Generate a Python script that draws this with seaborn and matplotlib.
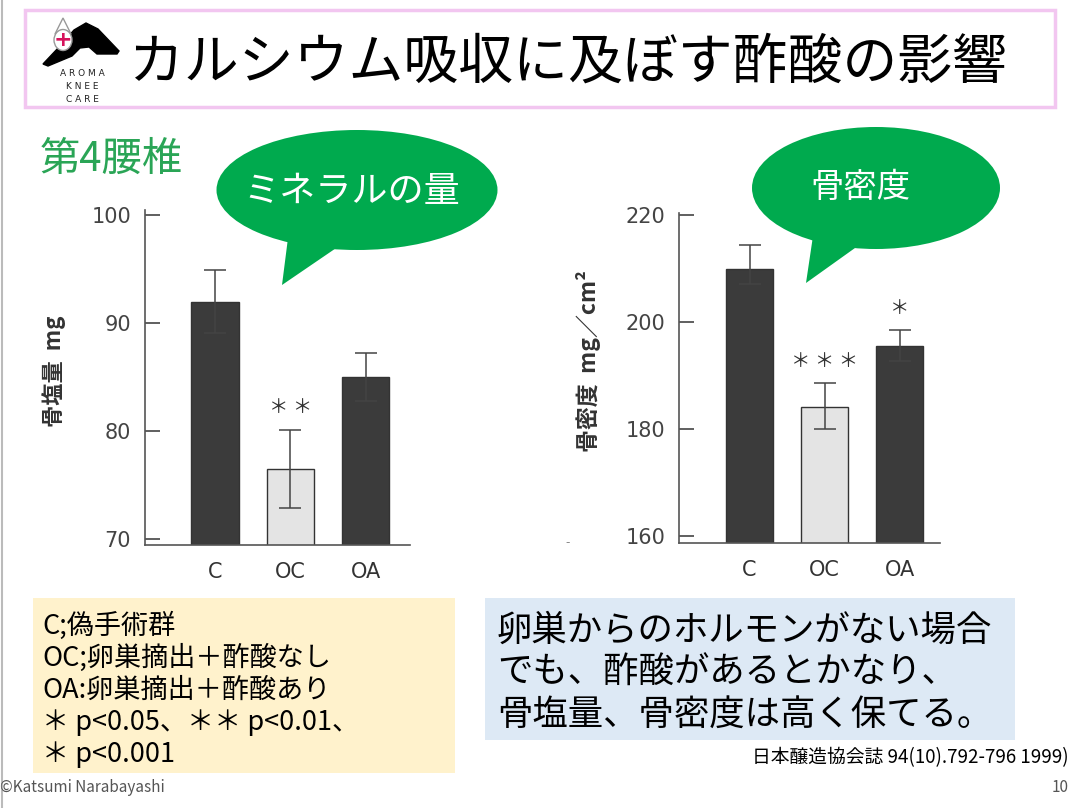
import matplotlib
matplotlib.use('Agg')
import matplotlib.pyplot as plt
from matplotlib.patches import Ellipse, Polygon, Rectangle
import seaborn as sns

# data
groups = ['C', 'OC', 'OA']
salt_mean = [92.0, 76.5, 85.0]            # 骨塩量 mg
salt_err = [2.9, 3.6, 2.2]
salt_stars = ['', '＊ ＊', '']
dens_mean = [210.0, 184.1, 195.6]          # 骨密度 mg/cm2
dens_err_low = [2.9, 4.1, 2.8]
dens_err_high = [4.4, 4.5, 2.9]
dens_stars = ['', '＊ ＊ ＊', '＊']
bar_colors = ['#3b3b3b', '#e4e4e4', '#3b3b3b']

title = 'カルシウム吸収に及ぼす酢酸の影響'
legend_lines = ['C;偽手術群', 'OC;卵巣摘出＋酢酸なし', 'OA:卵巣摘出＋酢酸あり',
                '＊ p<0.05、＊＊ p<0.01、', '＊ p<0.001']
note_lines = ['卵巣からのホルモンがない場合', 'でも、酢酸があるとかなり、',
              '骨塩量、骨密度は高く保てる。']
cite = '日本醸造協会誌 94(10).792-796 1999)'

sns.set_style('white')
jp = ['Noto Sans CJK JP', 'DejaVu Sans']
plt.rcParams['font.family'] = jp

W, H = 1073, 808
fig = plt.figure(figsize=(W / 100, H / 100), dpi=100)


def px_axes(x0, y0, x1, y1):
    return fig.add_axes([x0 / W, 1 - y1 / H, (x1 - x0) / W, (y1 - y0) / H])


def bar_panel(ax, means, lo, hi, stars, ylim, yticks, ylabel, xlim, ylab_y, lab_size):
    sns.barplot(x=groups, y=means, hue=groups, palette=bar_colors, legend=False,
                width=0.63, edgecolor='#333333', linewidth=1.0, ax=ax)
    ax.errorbar(range(len(groups)), means, yerr=[lo, hi], fmt='none',
                ecolor='#444444', elinewidth=1.1, capsize=8, capthick=1.1)
    for i, s in enumerate(stars):
        if s:
            ax.annotate(s, (i, means[i] + hi[i]), xytext=(0, 16),
                        textcoords='offset points', ha='center', va='center',
                        fontsize=14, color='#333333', family=jp)
    ax.set_ylim(*ylim)
    ax.set_xlim(*xlim)
    ax.set_yticks(yticks)
    ax.set_yticklabels([str(t) for t in yticks], family='DejaVu Sans')
    ax.set_xticks(range(len(groups)))
    ax.set_xticklabels(groups, family='DejaVu Sans')
    ax.tick_params(axis='y', direction='in', length=11, width=1.2,
                   colors='#444444', labelsize=15, pad=10, left=True)
    ax.tick_params(axis='x', length=0, labelsize=15, colors='#333333', pad=12)
    for side in ['top', 'right']:
        ax.spines[side].set_visible(False)
    for side in ['left', 'bottom']:
        ax.spines[side].set_color('#555555')
        ax.spines[side].set_linewidth(1.2)
    ax.set_xlabel('')
    ax.set_ylabel(ylabel, fontsize=lab_size, fontweight='bold', color='#333333')
    ax.yaxis.set_label_coords(-0.30, ylab_y)
    ax.set_facecolor('none')


ax1 = px_axes(145, 210, 410, 545)
bar_panel(ax1, salt_mean, salt_err, salt_err, salt_stars, (69.44, 100.5),
          [70, 80, 90, 100], '骨塩量  mg', (-0.93, 2.59), 0.52, 16)

ax2 = px_axes(679, 213, 940, 543)
bar_panel(ax2, dens_mean, dens_err_low, dens_err_high, dens_stars, (158.77, 220.4),
          [160, 180, 200, 220], '骨密度  mg／cm²', (-0.94, 2.54), 0.55, 16.5)

# slide decorations on a full-figure overlay
ov = fig.add_axes([0, 0, 1, 1], zorder=10)
ov.set_xlim(0, W)
ov.set_ylim(H, 0)
ov.axis('off')
ov.patch.set_alpha(0)

ov.plot([2, 2], [0, H], color='#bbbbbb', lw=1.5)

# title box
ov.add_patch(Rectangle((25, 10), 1030, 97, fill=False, edgecolor='#f2c6f0', lw=2.5))
ov.text(568, 63, title, fontsize=39.5, ha='center', va='center', color='black')

# logo
ov.add_patch(Polygon([(43, 64), (60, 46), (74, 30), (86, 23), (98, 29), (119, 51),
                      (117, 54), (97, 54), (89, 47), (80, 48), (72, 56), (48, 66)],
                     closed=True, facecolor='black', edgecolor='black'))
ov.add_patch(Polygon([(55, 34), (63, 18), (71, 34)], closed=True,
                     facecolor='white', edgecolor='#999999', lw=1))
ov.add_patch(Ellipse((63, 40), 18, 21, facecolor='white', edgecolor='#999999', lw=1))
ov.add_patch(Ellipse((63, 38), 14, 14, facecolor='white', edgecolor='none'))
ov.text(63, 40, '+', fontsize=16, fontweight='bold', color='#d6135c',
        ha='center', va='center', family='DejaVu Sans')
for k, w in enumerate(['A R O M A', 'K N E E', 'C A R E']):
    ov.text(82, 74 + k * 12.5, w, fontsize=6.5, ha='center', va='center',
            color='#222222', family='DejaVu Sans')

# subtitle
ov.text(40, 159, '第4腰椎', fontsize=29, color='#2aa556', ha='left', va='center')

# speech bubbles
green = '#00aa4e'
ov.add_patch(Ellipse((357, 190), 281, 120, facecolor=green, edgecolor='none'))
ov.add_patch(Polygon([(288, 238), (282, 285), (345, 242)], closed=True,
                     facecolor=green, edgecolor='none'))
ov.text(352, 192, 'ミネラルの量', fontsize=26, color='white', ha='center', va='center')

ov.add_patch(Ellipse((876, 188), 248, 122, facecolor=green, edgecolor='none'))
ov.add_patch(Polygon([(813, 236), (806, 283), (862, 243)], closed=True,
                     facecolor=green, edgecolor='none'))
ov.text(860, 187, '骨密度', fontsize=24, color='white', ha='center', va='center')

ov.text(568, 543, '-', fontsize=9, color='#888888', ha='center', va='center')

# legend box
ov.add_patch(Rectangle((33, 598), 422, 175, facecolor='#fff2cc', edgecolor='none'))
for k, line in enumerate(legend_lines):
    ov.text(42, 626 + k * 32.2, line, fontsize=19.5, ha='left', va='center', color='black')

# note box
ov.add_patch(Rectangle((485, 598), 530, 142, facecolor='#dde9f5', edgecolor='none'))
for k, line in enumerate(note_lines):
    ov.text(497, 631 + k * 42, line, fontsize=25.5, ha='left', va='center', color='black')

ov.text(1069, 758, cite, fontsize=13.5, ha='right', va='center', color='black')
ov.text(0, 788, '©Katsumi Narabayashi', fontsize=11, ha='left', va='center', color='#555555')
ov.text(1069, 788, '10', fontsize=11, ha='right', va='center', color='#555555')

fig.savefig('out.png', dpi=100)
